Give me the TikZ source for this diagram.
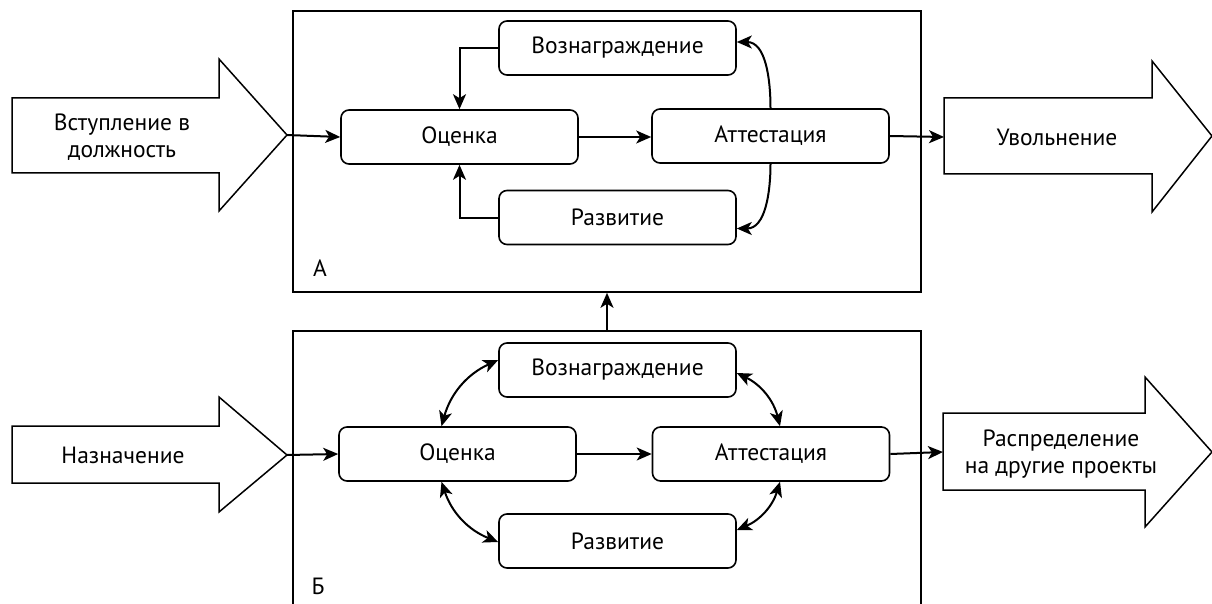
\documentclass[tikz,border=0pt]{standalone}
\usepackage{fontspec}
\setmainfont{PT Sans}
\usetikzlibrary{arrows.meta,positioning}

\tikzset{
  frame/.style={draw,line width=1.6pt,minimum width=628,minimum height=281,inner sep=0},
  box/.style={draw,line width=1.6pt,rounded corners=8pt,minimum width=237,minimum height=54,inner sep=0},
  bigarrow/.style={draw,line width=1.5pt},
  link/.style={line width=2pt,-{Stealth[length=15pt,width=13pt,inset=4pt]}},
  dlink/.style={line width=2pt,{Stealth[length=15pt,width=13pt,inset=4pt]}-{Stealth[length=15pt,width=13pt,inset=4pt]}},
}

\begin{document}
\begin{tikzpicture}[x=1pt,y=-1pt,font=\fontsize{23.5}{27}\selectfont]
  \useasboundingbox (0,0) rectangle (1212,604);
  \clip (0,0) rectangle (1212,604);
  % frames
  \node[frame] (fA) at (607,151.5) {};
  \node[frame,minimum height=309] (fB) at (607,485.5) {};
  \node at (320,268) {А};
  \node at (318,586) {Б};
  % big arrows, top
  \draw[bigarrow] (12,98) -- (219,98) -- (219,59) -- (287,135) -- (219,211) -- (219,173) -- (12,173) -- cycle;
  \coordinate (inAtip) at (287,135);
  \node[align=center] (inA) at (122,137) {Вступление в\\должность};
  \draw[bigarrow] (944,98) -- (1152,98) -- (1152,61) -- (1212,136) -- (1152,212) -- (1152,174) -- (944,174) -- cycle;
  \coordinate (outAtip) at (944,137);
  \node (outA) at (1057,137) {Увольнение};
  % big arrows, bottom
  \draw[bigarrow] (12,426) -- (219,426) -- (219,397) -- (287,455) -- (219,512) -- (219,483) -- (12,483) -- cycle;
  \coordinate (inBtip) at (287,455);
  \node (inB) at (123,455) {Назначение};
  \draw[bigarrow] (943,413) -- (1145,413) -- (1145,377) -- (1212,452) -- (1145,527) -- (1145,490) -- (943,490) -- cycle;
  \coordinate (outBtip) at (943,452);
  \node[align=center] (outB) at (1061,454) {Распределение\\на другие проекты};
  % upper scheme
  \node[box] (nagA) at (617.5,48) {Вознаграждение};
  \node[box] (ocA) at (459.5,137) {Оценка};
  \node[box] (atA) at (770.5,136) {Аттестация};
  \node[box] (razA) at (617.5,217.5) {Развитие};
  \draw[link] (inAtip) -- (ocA.west);
  \draw[link] (nagA.west) -| (ocA.north);
  \draw[link] (razA.west) -| (ocA.south);
  \draw[link] (ocA.east) -- (atA.west |- ocA.east);
  \draw[link] (atA.north) to[out=90,in=0] ([yshift=6pt]nagA.east);
  \draw[link] (atA.south) to[out=-90,in=0] ([yshift=-11pt]razA.east);
  \draw[link] (atA.east) -- (outAtip);
  % lower scheme
  \node[box] (nagB) at (617.5,370) {Вознаграждение};
  \node[box] (ocB) at (457.5,454) {Оценка};
  \node[box] (atB) at (771,454) {Аттестация};
  \node[box] (razB) at (617.5,541) {Развитие};
  \draw[link] (inBtip) -- (ocB.west);
  \draw[link] (ocB) -- (atB);
  \draw[link] (atB.east) -- (outBtip);
  \draw[dlink] ([xshift=-16pt]ocB.north) to[bend left=25] ([yshift=10pt]nagB.west);
  \draw[dlink] ([xshift=-16pt]ocB.south) to[bend right=25] ([yshift=-1pt]razB.west);
  \draw[dlink] ([xshift=9pt]atB.north) to[bend right=25] ([yshift=-3pt]nagB.east);
  \draw[dlink] ([xshift=9pt]atB.south) to[bend left=25] ([yshift=11pt]razB.east);
  % frame link
  \draw[link] (fB.north) -- (fA.south);
\end{tikzpicture}
\end{document}
